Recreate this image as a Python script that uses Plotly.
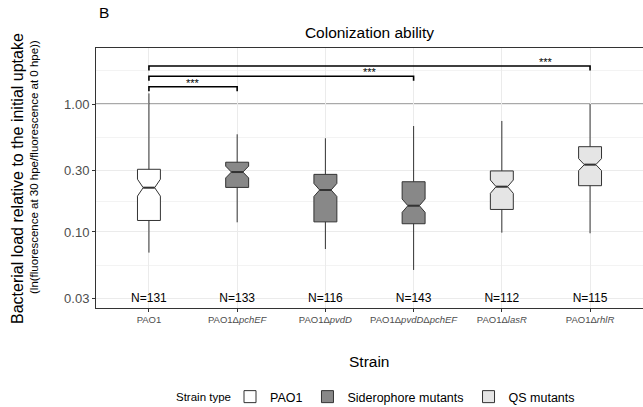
import numpy as np
import plotly.graph_objects as go

# ---------------- data ----------------
strains = ["PAO1", "PAO1ΔpchEF", "PAO1ΔpvdD", "PAO1ΔpvdDΔpchEF", "PAO1ΔlasR", "PAO1ΔrhlR"]
tick_labels = ["PAO1", "PAO1Δ<i>pchEF</i>", "PAO1Δ<i>pvdD</i>", "PAO1Δ<i>pvdD</i>Δ<i>pchEF</i>",
               "PAO1Δ<i>lasR</i>", "PAO1Δ<i>rhlR</i>"]
strain_type = ["PAO1", "Siderophore mutants", "Siderophore mutants", "Siderophore mutants",
               "QS mutants", "QS mutants"]
n_obs = [131, 133, 116, 143, 112, 115]

lower_whisker = [0.069, 0.119, 0.0736, 0.0505, 0.0988, 0.0977]
q1 = [0.123, 0.223, 0.120, 0.116, 0.150, 0.230]
median = [0.222, 0.294, 0.213, 0.1605, 0.226, 0.336]
q3 = [0.309, 0.351, 0.282, 0.247, 0.300, 0.464]
upper_whisker = [1.21, 0.58, 0.54, 0.673, 0.737, 1.00]
notch_half_log10 = [0.066, 0.046, 0.051, 0.052, 0.052, 0.047]

y_breaks = [0.03, 0.1, 0.3, 1.0]
y_break_labels = ["0.03", "0.10", "0.30", "1.00"]
y_limits = [0.02547, 2.74]
ref_line = 1.0

sig_pairs = [(0, 1), (0, 3), (0, 5)]
sig_heights = [1.365, 1.65, 1.98]
sig_label_x = [0.5, 2.5, 4.5]
sig_labels = ["***", "***", "***"]

type_order = ["PAO1", "Siderophore mutants", "QS mutants"]
type_colors = {"PAO1": "#ffffff", "Siderophore mutants": "#888888", "QS mutants": "#e5e5e5"}

# ---------------- figure ----------------
FONT = "Liberation Sans, Arial, Helvetica, sans-serif"
L = np.log10
BOX_W = 0.26
NOTCH_W = 0.25          # plotly: inner notch width = box width * (1 - 2*notchwidth)
fig = go.Figure()

for t in type_order:
    idx = [i for i, s in enumerate(strain_type) if s == t]
    fig.add_trace(go.Box(
        name=t,
        x=idx,
        q1=[L(q1[i]) for i in idx],
        median=[L(median[i]) for i in idx],
        q3=[L(q3[i]) for i in idx],
        lowerfence=[L(lower_whisker[i]) for i in idx],
        upperfence=[L(upper_whisker[i]) for i in idx],
        notchspan=[notch_half_log10[i] for i in idx],
        notched=True,
        notchwidth=NOTCH_W,
        width=BOX_W,
        whiskerwidth=0,
        fillcolor=type_colors[t],
        line=dict(color="#333333", width=1),
        boxpoints=False,
        hoverinfo="skip",
    ))

# thicker median bars (ggplot "fatten")
mx, my = [], []
half = BOX_W * (1 - 2 * NOTCH_W) / 2
for i, m in enumerate(median):
    mx += [i - half, i + half, None]
    my += [L(m), L(m), None]
fig.add_trace(go.Scatter(x=mx, y=my, mode="lines", line=dict(color="#333333", width=2),
                         showlegend=False, hoverinfo="skip"))

# N labels
fig.add_trace(go.Scatter(
    x=list(range(len(strains))), y=[L(0.03)] * len(strains),
    mode="text", text=[f"N={n}" for n in n_obs],
    textfont=dict(family=FONT, size=12, color="#000000"),
    showlegend=False, hoverinfo="skip",
))

# significance brackets
tick_drop = 0.035
for (a, b), h in zip(sig_pairs, sig_heights):
    hy = L(h)
    fig.add_trace(go.Scatter(
        x=[a, a, b, b], y=[hy - tick_drop, hy, hy, hy - tick_drop],
        mode="lines", line=dict(color="#000000", width=1.6),
        showlegend=False, hoverinfo="skip",
    ))
for xl, h, lab in zip(sig_label_x, sig_heights, sig_labels):
    fig.add_annotation(x=xl, y=L(h), text=lab, showarrow=False,
                       yanchor="middle", yshift=4,
                       font=dict(family=FONT, size=11, color="#000000"))

# reference line at 1
fig.add_shape(type="line", xref="paper", x0=0, x1=1, yref="y",
              y0=L(ref_line), y1=L(ref_line),
              line=dict(color="#4d4d4d", width=1), layer="between")

# minor grid: midpoints between log breaks (+ one beyond the top)
lb = [L(v) for v in y_breaks]
minor = [(lb[i] + lb[i + 1]) / 2 for i in range(len(lb) - 1)]
minor.append(lb[-1] + (lb[-1] - lb[-2]) / 2)

fig.update_layout(
    width=643, height=407,
    margin=dict(l=96, r=0, t=48, b=99),
    paper_bgcolor="#ffffff", plot_bgcolor="#ffffff",
    boxmode="overlay",
    font=dict(family=FONT, color="#000000"),
    title=dict(text="Colonization ability", x=0.5, xref="paper", xanchor="center",
               y=1 - 33 / 407, yref="container", yanchor="middle",
               font=dict(family=FONT, size=15.5, color="#000000")),
    xaxis=dict(
        range=[-0.6, 5.6], tickmode="array", tickvals=list(range(len(strains))),
        ticktext=tick_labels, tickfont=dict(family=FONT, size=9.5, color="#4d4d4d"),
        showgrid=True, gridcolor="#ebebeb", gridwidth=1,
        zeroline=False, showline=True, linecolor="#333333", linewidth=1, mirror=True,
        ticks="outside", ticklen=3, tickcolor="#333333",
    ),
    yaxis=dict(
        range=[L(y_limits[0]), L(y_limits[1])], tickmode="array", tickvals=lb,
        ticktext=y_break_labels, tickfont=dict(family=FONT, size=13, color="#4d4d4d"),
        showgrid=True, gridcolor="#ebebeb", gridwidth=1,
        minor=dict(tickmode="array", tickvals=minor, showgrid=True,
                   gridcolor="#f3f3f3", gridwidth=0.8, ticks=""),
        zeroline=False, showline=True, linecolor="#333333", linewidth=1,
        ticks="outside", ticklen=3, tickcolor="#333333",
    ),
    legend=dict(
        orientation="h", xref="container", yref="container",
        x=230 / 643, xanchor="left", y=1 - 397 / 407, yanchor="middle",
        font=dict(family=FONT, size=12.5, color="#000000"),
        itemwidth=30, bgcolor="rgba(0,0,0,0)",
    ),
    showlegend=True,
)

# legend title, panel label, axis titles
fig.add_annotation(text="Strain type", xref="paper", yref="paper",
                   x=(233 - 96) / 547, y=(308 - 397) / 260,
                   xanchor="right", yanchor="middle", showarrow=False,
                   font=dict(family=FONT, size=11.5, color="#000000"))
fig.add_annotation(text="B", xref="paper", yref="paper", x=(97 - 96) / 547, y=(308 - 12.5) / 260,
                   xanchor="left", yanchor="middle", showarrow=False,
                   font=dict(family=FONT, size=15.5, color="#000000"))
fig.add_annotation(text="Strain", xref="paper", yref="paper", x=(369 - 96) / 547, y=(308 - 361) / 260,
                   xanchor="center", yanchor="middle", showarrow=False,
                   font=dict(family=FONT, size=15.5, color="#000000"))
fig.add_annotation(text="Bacterial load relative to the initial uptake", xref="paper", yref="paper",
                   x=(17 - 96) / 547, y=(308 - 179) / 260, textangle=-90,
                   xanchor="center", yanchor="middle", showarrow=False,
                   font=dict(family=FONT, size=16, color="#000000"))
fig.add_annotation(text="(ln(fluorescence at 30 hpe/fluorescence at 0 hpe))", xref="paper", yref="paper",
                   x=(34 - 96) / 547, y=(308 - 167) / 260, textangle=-90,
                   xanchor="center", yanchor="middle", showarrow=False,
                   font=dict(family=FONT, size=11.5, color="#000000"))

fig.write_html("out.html", config={"displayModeBar": False},
               post_script="document.body.style.margin='0';document.body.style.padding='0';")
